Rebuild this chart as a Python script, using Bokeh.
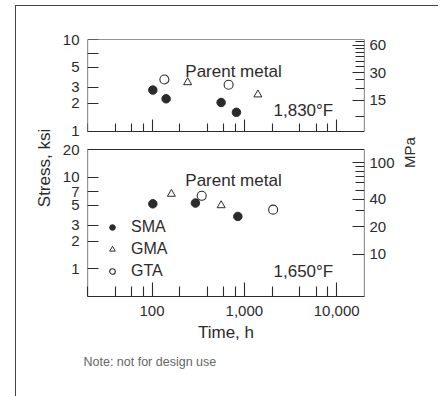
import math
from bokeh.plotting import figure
from bokeh.models import (Range1d, LogScale, LogAxis, FixedTicker, NumeralTickFormatter,
                          Label, Legend, LegendItem, Title)
from bokeh.embed import file_html
from bokeh.resources import INLINE

# ---------------- data ----------------
time_major = [100, 1000, 10000]
time_minor = [20, 40, 60, 80, 200, 400, 600, 800, 2000, 4000, 6000, 8000]

ksi_ticks_top = [1, 2, 3, 5, 7, 10]
ksi_labels_top = [1, 2, 3, 5, 10]
ksi_ticks_bot = [1, 2, 3, 5, 7, 10, 20]
ksi_labels_bot = [1, 2, 3, 5, 7, 10, 20]

mpa_major_top = [15, 30, 60]
mpa_minor_top = [10, 20, 25, 35, 40, 45, 50, 55, 65]
mpa_major_bot = [10, 20, 40, 100]
mpa_minor_bot = [30, 50, 60, 70, 80, 90]
KSI_TO_MPA = 6.895

# 1,830 F panel (top)
top_sma_t = [102, 142, 560, 820]
top_sma_s = [2.8, 2.25, 2.05, 1.6]
top_gma_t = [243, 1400]
top_gma_s = [3.4, 2.5]
top_gta_t = [136, 675]
top_gta_s = [3.65, 3.2]

# 1,650 F panel (bottom)
bot_sma_t = [102, 295, 850]
bot_sma_s = [5.15, 5.25, 3.75]
bot_gma_t = [162, 560]
bot_gma_s = [6.6, 4.95]
bot_gta_t = [345, 2050]
bot_gta_s = [6.3, 4.45]

series_names = ["SMA", "GMA", "GTA"]

# ---------------- layout constants ----------------
FONT = "Liberation Sans"
INK = "#2b2b2b"
W, H = 443, 396
BL, BR, BT = 87, 79, 39
FRAME_H = 257
BB = H - BT - FRAME_H
DEC = 91.5                      # pixels per decade on both stress axes
TOP_LO, TOP_HI = 1.0, 10.0      # top panel ksi span
BOT_LO, BOT_HI = 0.5, 20.0      # bottom panel ksi span
X_LO, X_HI = 20, 20000

top_range = Range1d(TOP_HI / 10 ** (FRAME_H / DEC), TOP_HI)
bot_range = Range1d(BOT_LO, BOT_LO * 10 ** (FRAME_H / DEC))
K = bot_range.start / top_range.start   # top-panel value -> same height on bottom scale

p = figure(width=W, height=H, x_axis_type="log", y_axis_type="log",
           x_range=Range1d(X_LO, X_HI), y_range=bot_range,
           output_backend="svg", toolbar_location=None,
           min_border_left=BL, min_border_right=BR, min_border_top=BT, min_border_bottom=BB)
p.extra_y_ranges = {
    "top": top_range,
    "top_mpa": Range1d(top_range.start * KSI_TO_MPA, top_range.end * KSI_TO_MPA),
    "bot_mpa": Range1d(bot_range.start * KSI_TO_MPA, bot_range.end * KSI_TO_MPA),
}
p.extra_y_scales = {"top": LogScale(), "top_mpa": LogScale(), "bot_mpa": LogScale()}
p.xgrid.visible = False
p.ygrid.visible = False
p.outline_line_color = None
p.background_fill_color = "white"
p.border_fill_color = None
p.styles = {
    "background": ("linear-gradient(#444,#444) 15px 5px / 1px 391px no-repeat, "
                   "linear-gradient(#444,#444) 15px 5px / 423px 1px no-repeat, white"),
}


def style(ax, major_in=0, minor_in=0, labels=True, line=True, size="15px"):
    ax.axis_line_color = INK if line else None
    ax.axis_line_width = 1.2
    ax.major_tick_in = major_in
    ax.major_tick_out = 0
    ax.minor_tick_in = minor_in
    ax.minor_tick_out = 0
    ax.major_tick_line_color = INK if major_in else None
    ax.minor_tick_line_color = INK if minor_in else None
    ax.major_tick_line_width = 1.1
    ax.minor_tick_line_width = 1.1
    ax.major_label_text_font = FONT
    ax.major_label_text_font_size = size
    ax.major_label_text_color = INK if labels else None
    ax.axis_label_text_font = FONT
    ax.axis_label_text_font_style = "normal"
    ax.axis_label_text_color = INK


# bottom panel x axis (time)
xax = p.xaxis[0]
xax.ticker = FixedTicker(ticks=time_major, minor_ticks=time_minor)
xax.formatter = NumeralTickFormatter(format="0,0")
style(xax, 14, 10)
xax.major_label_standoff = 9
xax.axis_label = "Time, h"
xax.axis_label_text_font_size = "17px"
xax.axis_label_standoff = 4

# left: one label-only axis carrying the tick labels of both panels
left_pos = [float(v) for v in ksi_labels_bot] + [v * K for v in ksi_labels_top]
left_txt = [str(v) for v in ksi_labels_bot] + [str(v) for v in ksi_labels_top]
yax = p.yaxis[0]
yax.ticker = FixedTicker(ticks=left_pos)
yax.major_label_overrides = dict(zip(left_pos, left_txt))
style(yax, line=False)
yax.major_label_standoff = 8
yax.axis_label = "Stress, ksi"
yax.axis_label_text_font_size = "17px"
yax.axis_label_standoff = 6

# right: one label-only axis carrying the MPa labels of both panels
right_pos = [float(v) for v in mpa_major_bot] + [v * K for v in mpa_major_top]
right_txt = [str(v) for v in mpa_major_bot] + [str(v) for v in mpa_major_top]
rax = LogAxis(y_range_name="bot_mpa", ticker=FixedTicker(ticks=right_pos),
              major_label_overrides=dict(zip(right_pos, right_txt)))
style(rax, line=False)
rax.major_label_standoff = 5
rax.axis_label = "MPa"
rax.axis_label_text_font_size = "15px"
rax.axis_label_standoff = 12
rax.axis_label_orientation = math.pi / 2
p.add_layout(rax, "right")


def edge(side, loc, rng=None, ticks=(), minor=(), major_in=0, minor_in=0, bounds=None):
    kw = {} if rng is None else {"y_range_name": rng}
    if bounds is not None:
        kw["bounds"] = bounds
    ax = LogAxis(fixed_location=loc, ticker=FixedTicker(ticks=list(ticks), minor_ticks=list(minor)), **kw)
    style(ax, major_in, minor_in, labels=False)
    p.add_layout(ax, side)


# panel edges with inward ticks
edge("left", X_LO, None, ksi_ticks_bot, major_in=11, bounds=(BOT_LO, BOT_HI))
edge("left", X_LO, "top", ksi_ticks_top, major_in=11, bounds=(TOP_LO, TOP_HI))
edge("right", X_HI, "bot_mpa", mpa_major_bot, mpa_minor_bot, 12, 9,
     bounds=(BOT_LO * KSI_TO_MPA, BOT_HI * KSI_TO_MPA))
edge("right", X_HI, "top_mpa", mpa_major_top, mpa_minor_top, 12, 9,
     bounds=(TOP_LO * KSI_TO_MPA, TOP_HI * KSI_TO_MPA))
edge("below", TOP_LO, "top", time_major, time_minor, 12, 8)
edge("above", TOP_HI, "top")
edge("above", BOT_HI, None)

# ---------------- points ----------------
def pts(t, s, kind, rng=None):
    kw = {} if rng is None else {"y_range_name": rng}
    if kind == "SMA":
        return p.scatter(t, s, marker="circle", size=8.5, fill_color=INK, line_color=INK, **kw)
    if kind == "GMA":
        return p.scatter(t, s, marker="triangle", size=8, fill_color="white",
                         line_color=INK, line_width=1, **kw)
    return p.scatter(t, s, marker="circle", size=9, fill_color="white",
                     line_color=INK, line_width=1.1, **kw)


pts(top_sma_t, top_sma_s, "SMA", "top")
pts(top_gma_t, top_gma_s, "GMA", "top")
pts(top_gta_t, top_gta_s, "GTA", "top")
r_sma = pts(bot_sma_t, bot_sma_s, "SMA")
r_gma = pts(bot_gma_t, bot_gma_s, "GMA")
r_gta = pts(bot_gta_t, bot_gta_s, "GTA")

legend = Legend(items=[LegendItem(label=n, renderers=[r]) for n, r in
                       zip(series_names, [r_sma, r_gma, r_gta])],
                location=(18, 15), margin=0, padding=0, spacing=2,
                glyph_width=14, glyph_height=20, label_height=20, label_standoff=12,
                background_fill_alpha=0, border_line_color=None,
                label_text_font=FONT, label_text_font_size="16px", label_text_color=INK)
p.add_layout(legend)

# ---------------- texts inside the panels ----------------
def lab(x, y, text, size="17px", align="left"):
    p.add_layout(Label(x=x, y=y, x_units="screen", y_units="screen", text=text,
                       text_align=align, text_baseline="alphabetic",
                       text_font=FONT, text_font_size=size, text_color=INK))


lab(146, 225, "Parent metal", align="center")
lab(146, 116, "Parent metal", align="center")
lab(186, 186, "1,830°F")
lab(186, 25, "1,650°F")

p.add_layout(Title(text="Note: not for design use", align="left", offset=-4,
                   standoff=17, text_font=FONT, text_font_size="12.5px",
                   text_font_style="normal", text_color="#666666"), "below")

open("out.html", "w").write(file_html(p, INLINE))
